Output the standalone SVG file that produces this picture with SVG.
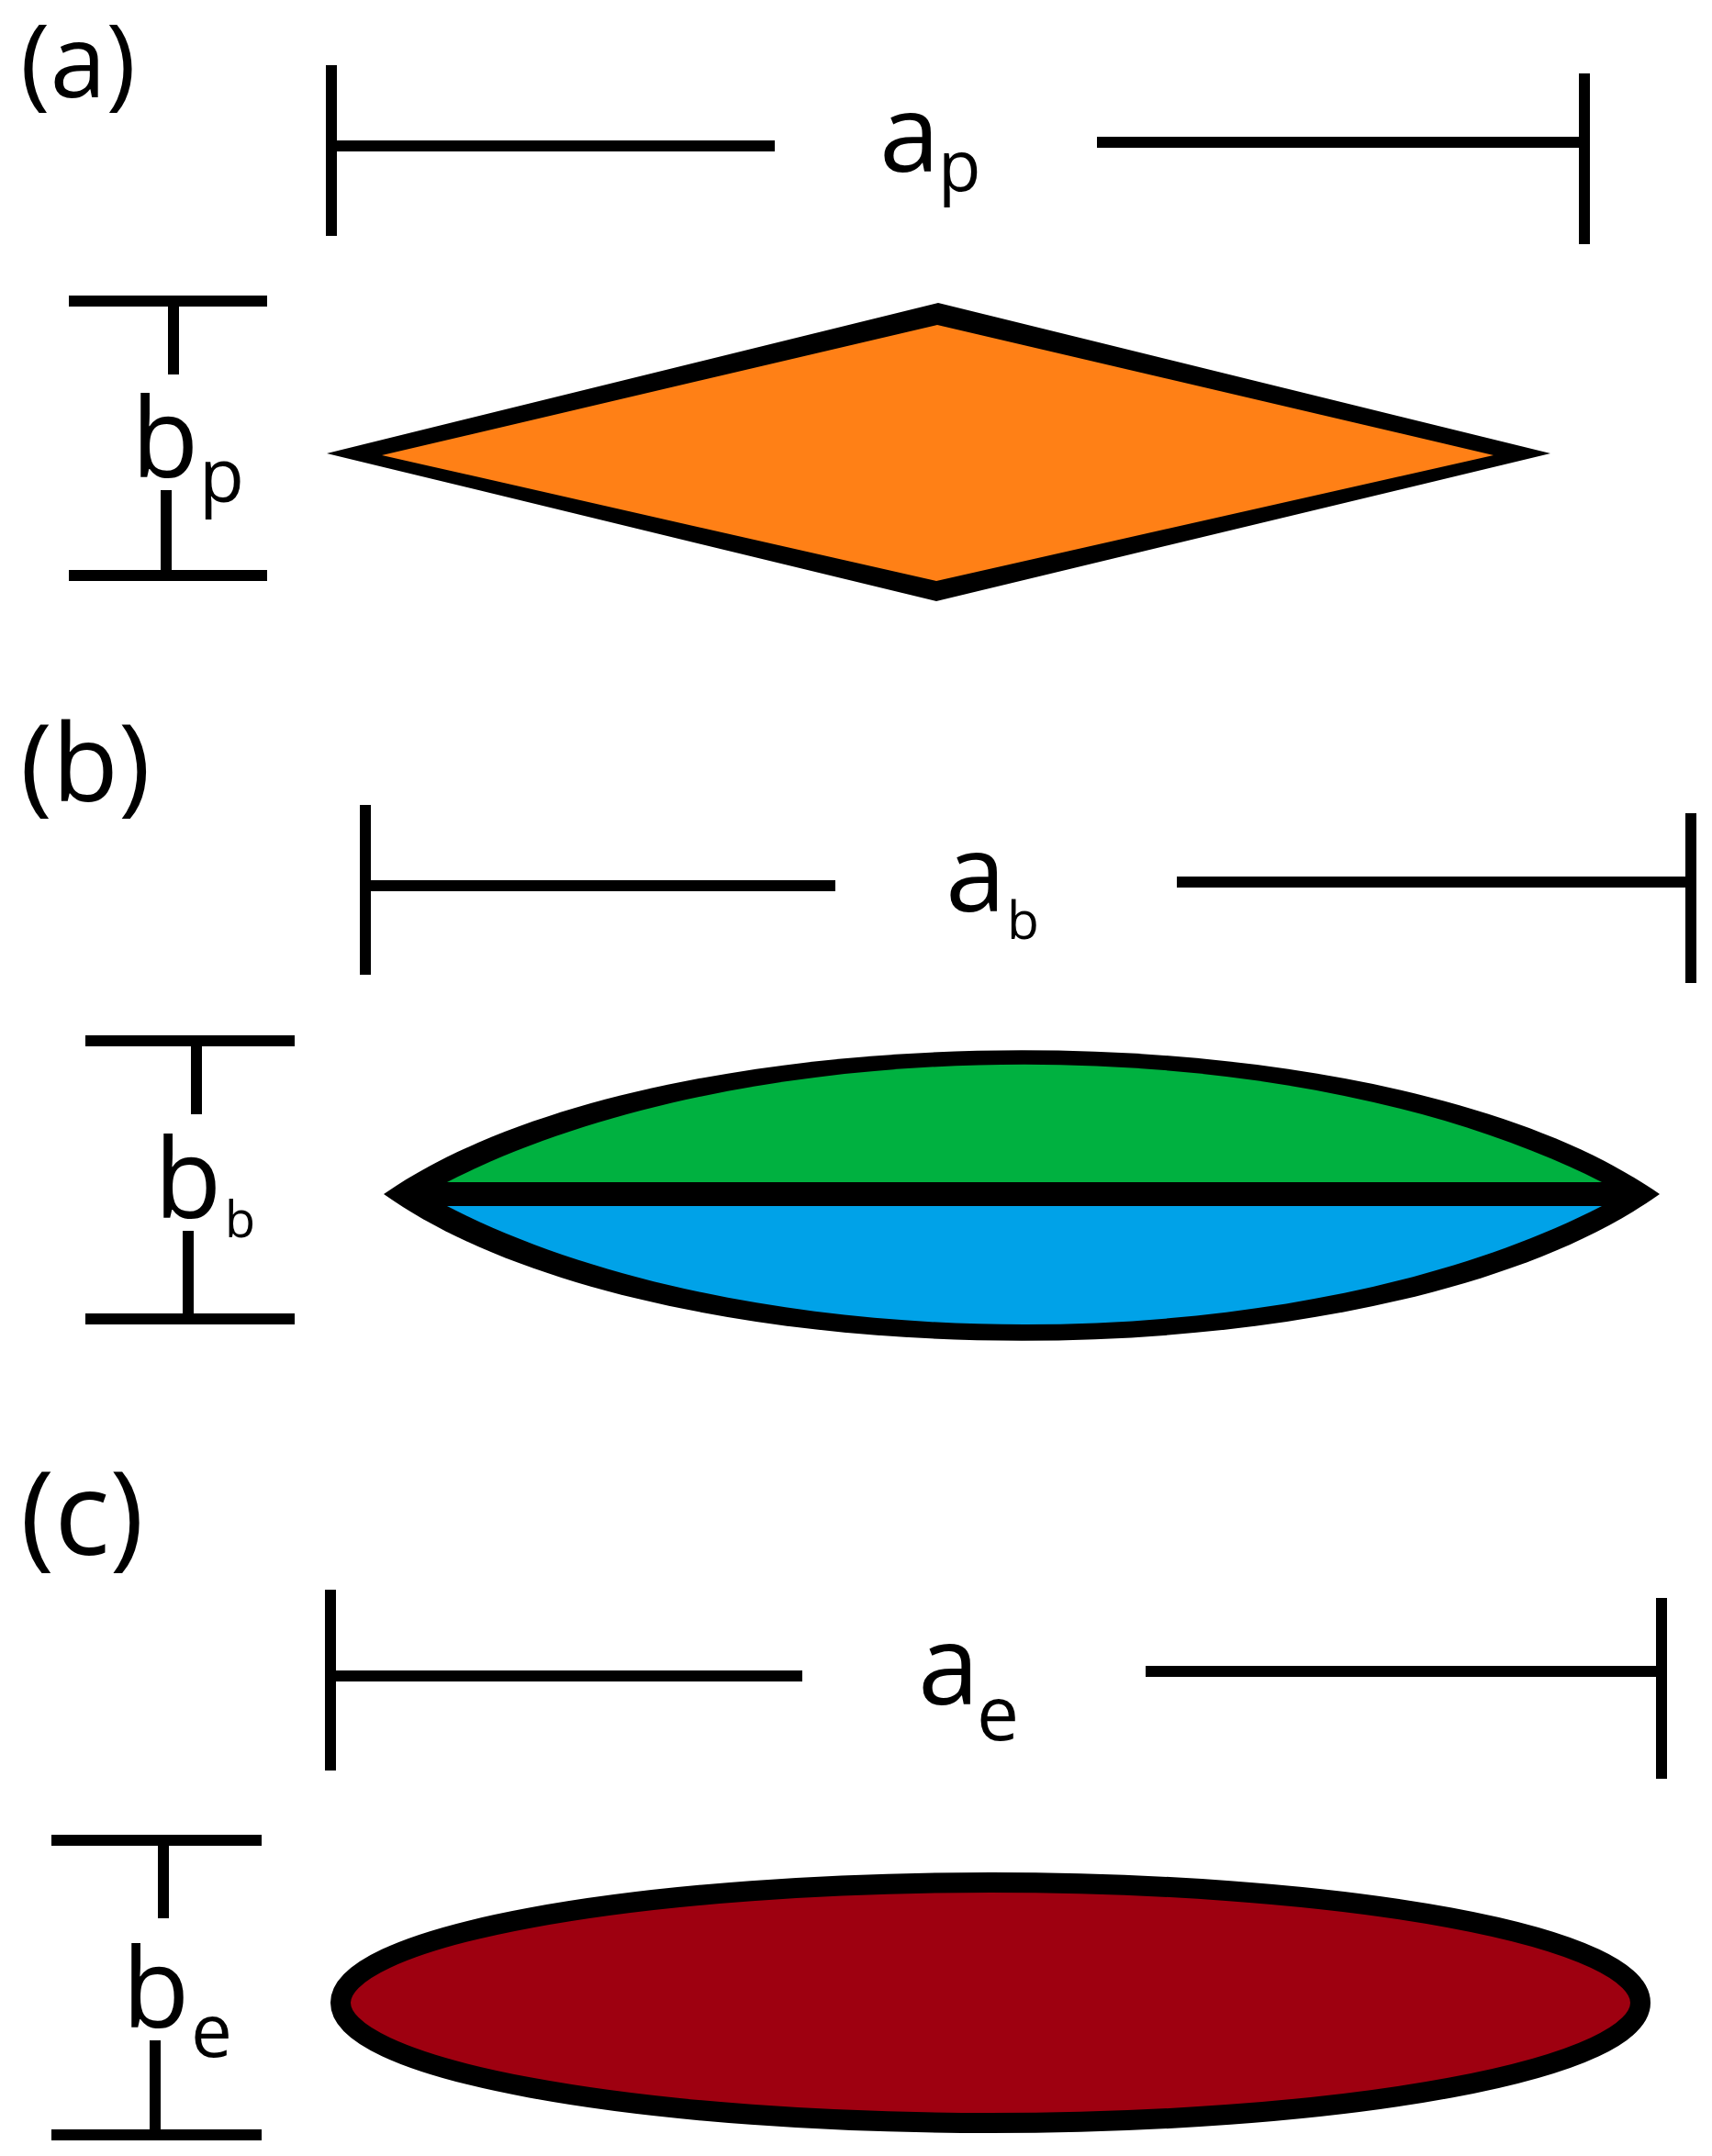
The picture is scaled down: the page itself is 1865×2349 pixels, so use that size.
<svg xmlns="http://www.w3.org/2000/svg" width="1865" height="2349" viewBox="0 0 1865 2349">
<style>
.dim{stroke:#000;stroke-width:12;stroke-linecap:butt;fill:none}
.lbl{font-family:"Open Sans","Noto Sans","DejaVu Sans",sans-serif;fill:#000}
</style>
<rect width="1865" height="2349" fill="#fff"/>
<g id="panel-a">
  <text class="lbl" x="22" y="106" font-size="110">(a)</text>
  <g id="dims-a">
    <line class="dim" x1="361" y1="71" x2="361" y2="257"/>
    <line class="dim" x1="355" y1="159" x2="844" y2="159"/>
    <line class="dim" x1="1195" y1="155" x2="1732" y2="155"/>
    <line class="dim" x1="1726" y1="80" x2="1726" y2="266"/>
    <line class="dim" x1="75" y1="328" x2="291" y2="328"/>
    <line class="dim" x1="189" y1="328" x2="189" y2="408"/>
    <line class="dim" x1="181" y1="534" x2="181" y2="627"/>
    <line class="dim" x1="75" y1="627" x2="291" y2="627"/>
  </g>
  <text class="lbl" x="958" y="187" font-size="118">a<tspan x="1022" y="208" font-size="76">p</tspan></text>
  <text class="lbl" x="143" y="520" font-size="120">b<tspan x="217" y="547" font-size="80">p</tspan></text>
  <g id="diamond">
    <polygon points="356,494 1022,330 1689,494 1020,655" fill="#000"/>
    <polygon points="416,496 1021,354 1627,496 1020,633" fill="#FF8016"/>
  </g>
</g>
<g id="panel-b">
  <text class="lbl" x="22" y="873" font-size="118">(b)</text>
  <g id="dims-b">
    <line class="dim" x1="398" y1="877" x2="398" y2="1062"/>
    <line class="dim" x1="392" y1="965" x2="910" y2="965"/>
    <line class="dim" x1="1282" y1="961" x2="1848" y2="961"/>
    <line class="dim" x1="1842" y1="886" x2="1842" y2="1071"/>
    <line class="dim" x1="93" y1="1134" x2="321" y2="1134"/>
    <line class="dim" x1="214" y1="1134" x2="214" y2="1214"/>
    <line class="dim" x1="205" y1="1341" x2="205" y2="1437"/>
    <line class="dim" x1="93" y1="1437" x2="321" y2="1437"/>
  </g>
  <text class="lbl" x="1030" y="993" font-size="118">a<tspan x="1097" y="1023" font-size="57">b</tspan></text>
  <text class="lbl" x="168" y="1327" font-size="120">b<tspan x="245" y="1348" font-size="54">b</tspan></text>
  <g id="lens">
    <path d="M418,1301 C718,1092 1508,1092 1808,1301 C1508,1514 718,1514 418,1301 Z" fill="#000"/>
    <path d="M487,1288 C821,1117 1411,1117 1745,1288 Z" fill="#00B140"/>
    <path d="M487,1314 C821,1486 1411,1486 1745,1314 Z" fill="#00A2E8"/>
  </g>
</g>
<g id="panel-c">
  <text class="lbl" x="22" y="1694" font-size="126">(c)</text>
  <g id="dims-c">
    <line class="dim" x1="360" y1="1732" x2="360" y2="1929"/>
    <line class="dim" x1="354" y1="1826" x2="874" y2="1826"/>
    <line class="dim" x1="1248" y1="1821" x2="1816" y2="1821"/>
    <line class="dim" x1="1810" y1="1741" x2="1810" y2="1938"/>
    <line class="dim" x1="56" y1="2005" x2="285" y2="2005"/>
    <line class="dim" x1="178" y1="2005" x2="178" y2="2090"/>
    <line class="dim" x1="169" y1="2223" x2="169" y2="2326"/>
    <line class="dim" x1="56" y1="2326" x2="285" y2="2326"/>
  </g>
  <text class="lbl" x="1000" y="1857" font-size="120">a<tspan x="1064" y="1896" font-size="82">e</tspan></text>
  <text class="lbl" x="133" y="2209" font-size="120">b<tspan x="208" y="2241" font-size="80">e</tspan></text>
  <g id="ellipse">
    <ellipse cx="1079" cy="2182" rx="708" ry="131" fill="#9E0010" stroke="#000" stroke-width="22"/>
  </g>
</g>
</svg>
